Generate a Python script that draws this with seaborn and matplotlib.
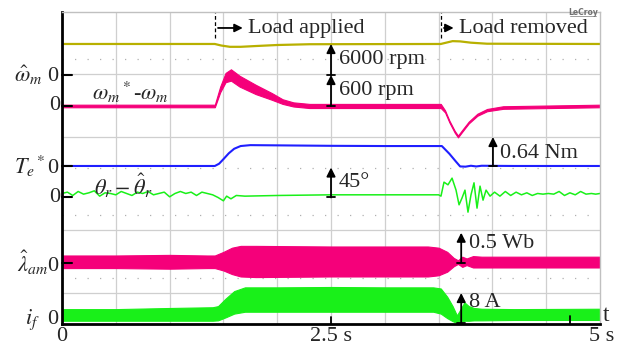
import seaborn as sns
from matplotlib import pyplot as plt

# Scope screen: x in seconds (0..5 s), y in screen units (0..312, 39 units per division).
# Each channel has a zero level on screen and a gain (screen units per physical unit).

# estimated speed (rpm)
speed_t = [0.00, 1.42, 1.48, 1.56, 1.66, 1.80, 2.00, 2.30, 3.52, 3.57, 3.63, 3.70, 3.80, 3.95, 5.00]
speed_rpm = [6000, 6000, 5700, 5450, 5450, 5600, 5800, 5950, 6000, 6250, 6550, 6500, 6250, 6050, 6000]

# speed error (rpm), centre and half width of the noisy band
err_t = [0.00, 1.42, 1.47, 1.52, 1.57, 1.65, 1.80, 1.95, 2.05, 2.15, 2.30, 3.52,
         3.56, 3.60, 3.65, 3.68, 3.72, 3.78, 3.86, 3.95, 4.10, 5.00]
err_rpm = [0, 0, 320, 550, 600, 480, 320, 185, 85, 30, 0, 0,
           -105, -300, -500, -590, -480, -320, -170, -80, -30, 0]
err_half = [25, 25, 55, 90, 110, 105, 90, 65, 45, 40, 40, 40,
            20, 18, 18, 18, 18, 18, 20, 22, 25, 25]

# torque reference (Nm)
te_t = [0.00, 1.42, 1.46, 1.50, 1.55, 1.60, 1.66, 1.75, 2.00, 2.50, 3.00, 3.53,
        3.60, 3.66, 3.70, 3.75, 3.80, 3.85, 3.90, 4.20, 5.00]
te_nm = [0.0, 0.0, 0.05, 0.15, 0.28, 0.38, 0.44, 0.46, 0.455, 0.445, 0.44, 0.44,
         0.27, 0.10, -0.01, -0.015, 0.005, -0.01, 0.005, 0.0, 0.0]

# rotor position error (deg)
theta_t = [0.00, 0.05, 0.10, 0.15, 0.20, 0.25, 0.30, 0.35, 0.40, 0.45, 0.50, 0.55,
           0.60, 0.65, 0.70, 0.75, 0.80, 0.85, 0.90, 0.95, 1.00, 1.05, 1.10, 1.15,
           1.20, 1.25, 1.30, 1.35, 1.40, 1.45, 1.50, 1.53, 1.57, 1.62, 1.70, 2.00,
           2.50, 3.00, 3.50, 3.522, 3.550, 3.587, 3.625, 3.662, 3.690, 3.717, 3.745,
           3.773, 3.801, 3.829, 3.857, 3.885, 3.913, 3.941, 3.978, 4.02, 4.07, 4.12,
           4.17, 4.22, 4.27, 4.32, 4.37, 4.42, 4.47, 4.52, 4.57, 4.62, 4.67, 4.72,
           4.77, 4.82, 4.87, 4.92, 4.96, 5.00]
theta_deg = [6, 8, 3, 9, 5, 7, 10, 2, 7, 6, 4, 9, 6, 3, 8, 6, 9, 4, 6, 8, 1, 6, 9,
             6, 8, 3, 8, 6, 4, 0, -5, 2, -2, 3, 2, 3, 4, 4, 4, 2, 23, 19, 29, 11,
             -11, -1, 11, -22, 4, 22, -16, 17, -4, 11, 2, 8, 2, 9, 3, 8, 4, 7, 3,
             6, 5, 6, 5, 9, 3, 7, 4, 9, 5, 6, 5, 6]

# estimated flux (Wb), envelope of the band
lam_t = [0.00, 0.50, 1.00, 1.35, 1.42, 1.50, 1.58, 1.66, 1.80, 2.50, 3.00, 3.40,
         3.50, 3.58, 3.64, 3.68, 3.72, 3.76, 3.82, 3.90, 5.00]
lam_hi = [0.12, 0.12, 0.13, 0.12, 0.12, 0.18, 0.25, 0.28, 0.28, 0.27, 0.27, 0.27,
          0.25, 0.18, 0.08, 0.04, 0.10, 0.07, 0.11, 0.10, 0.10]
lam_lo = [-0.09, -0.09, -0.10, -0.09, -0.09, -0.13, -0.19, -0.23, -0.24, -0.23, -0.23, -0.23,
          -0.21, -0.15, -0.06, -0.02, -0.07, -0.04, -0.08, -0.08, -0.08]

# field current (A), envelope of the band
if_t = [0.00, 0.50, 1.00, 1.40, 1.45, 1.52, 1.60, 1.70, 2.00, 2.50, 3.00, 3.45,
        3.52, 3.58, 3.63, 3.67, 3.70, 3.74, 3.78, 3.83, 3.90, 4.20, 5.00]
if_hi = [3.7, 3.7, 4.0, 4.2, 4.5, 6.5, 8.5, 9.5, 9.5, 9.6, 9.5, 9.5,
         9.2, 7.0, 4.5, 2.0, 3.5, 5.5, 4.5, 4.0, 3.8, 3.7, 3.8]
if_lo = [0.6, 0.6, 0.6, 0.6, 0.7, 1.5, 2.5, 3.0, 3.0, 3.0, 3.0, 3.0,
         2.5, 1.3, 0.5, 0.0, 0.3, 0.6, 0.6, 0.7, 0.7, 0.8, 0.8]

t_load_on = 1.42
t_load_off = 3.52

# channel zero level on screen and gain
SPEED = (249.0, 31 / 6000)
ERR = (218.0, 31 / 600)
TE = (158.0, 29 / 0.64)
THETA = (126.5, 30 / 45)
LAM = (61.3, 60.0)
IF = (1.0, 30 / 8)

OLIVE = "#b8b000"
PINK = "#f5007a"
BLUE = "#1f1fff"
GREEN = "#19f019"


def scr(channel, values):
    zero, gain = channel
    return [zero + v * gain for v in values]


def scale_arrow(ax, t, channel, value, label, dy=0.0):
    zero, gain = channel
    top = zero + value * gain
    ax.annotate("", xy=(t, top), xytext=(t, zero),
                arrowprops=dict(arrowstyle="-|>", color="black", lw=1.3,
                                mutation_scale=13, shrinkA=0, shrinkB=0))
    ax.plot([t - 0.035, t + 0.035], [zero, zero], color="black", lw=1.3)
    ax.text(t + 0.07, (zero + top) / 2 + dy, label, fontsize=16, va="center", ha="left")


sns.set_theme(style="white")
plt.rcParams["font.family"] = ["Liberation Serif", "DejaVu Serif"]
plt.rcParams["mathtext.fontset"] = "stix"

fig = plt.figure(figsize=(6.29, 3.48), dpi=100)
ax = fig.add_axes([0.0986, 0.069, 0.8553, 0.8966])
ax.set_xlim(0, 5)
ax.set_ylim(0, 312)
ax.set_xticks([])
ax.set_yticks([])

# scope grid
for x in [0.5, 1.0, 1.5, 2.0, 2.5, 3.0, 3.5, 4.0, 4.5]:
    ax.axvline(x, color="#cfcfcf", lw=0.9, zorder=0)
for y in [250, 187, 94, 31]:
    ax.axhline(y, color="#cfcfcf", lw=0.9, zorder=0)
for y in [265, 156, 109, 46]:
    ax.axhline(y, color="#b0b0b0", lw=0.9, ls=(0, (1, 9)), zorder=0)

for side in ["top", "right"]:
    ax.spines[side].set_color("#c0c0c0")
    ax.spines[side].set_linewidth(1.0)
for side in ["left", "bottom"]:
    ax.spines[side].set_color("black")
    ax.spines[side].set_linewidth(2.0)

# traces
sns.lineplot(x=speed_t, y=scr(SPEED, speed_rpm), ax=ax, color=OLIVE, lw=1.6,
             sort=False, estimator=None, legend=False)

err_mid = scr(ERR, err_rpm)
err_up = [m + h * ERR[1] for m, h in zip(err_mid, err_half)]
err_dn = [m - h * ERR[1] for m, h in zip(err_mid, err_half)]
ax.fill_between(err_t, err_dn, err_up, color=PINK, lw=0.8, edgecolor=PINK)

sns.lineplot(x=te_t, y=scr(TE, te_nm), ax=ax, color=BLUE, lw=1.5,
             sort=False, estimator=None, legend=False)
sns.lineplot(x=theta_t, y=scr(THETA, theta_deg), ax=ax, color=GREEN, lw=1.1,
             sort=False, estimator=None, legend=False)

ax.fill_between(lam_t, scr(LAM, lam_lo), scr(LAM, lam_hi), color=PINK, lw=0.8, edgecolor=PINK)
ax.fill_between(if_t, scr(IF, if_lo), scr(IF, if_hi), color=GREEN, lw=0.8, edgecolor=GREEN)

# zero markers on the left edge
for ch in [SPEED, ERR, TE, THETA, LAM]:
    ax.plot([0, 0.09], [ch[0], ch[0]], color="black", lw=1.5, clip_on=False)
ax.plot([2.5, 2.5], [0, 7], color="black", lw=1.3)
ax.plot([4.72, 4.72], [0, 8], color="black", lw=1.3)

# channel labels
lab = dict(fontsize=16, ha="right", va="center", clip_on=False)
ax.text(-0.02, SPEED[0], r"$\hat{\omega}_m$ 0", **lab)
ax.text(-0.02, ERR[0], "0", **lab)
ax.text(-0.02, TE[0], r"$T_e{}^*$0", **lab)
ax.text(-0.02, THETA[0], "0", **lab)
ax.text(-0.02, LAM[0], r"$\hat{\lambda}_{am}$0", **lab)
ax.text(-0.02, 4, r"$i_f$  0", **lab)

ax.text(0.28, 232, r"$\omega_m{}^*$-$\omega_m$", fontsize=16, va="center")
ax.text(0.30, 138, r"$\theta_r-\hat{\theta}_r$", fontsize=16, va="center")

# scale arrows
scale_arrow(ax, 2.5, SPEED, 6000, "6000 rpm")
scale_arrow(ax, 2.5, ERR, 600, "600 rpm")
scale_arrow(ax, 4.005, TE, 0.64, "0.64 Nm", dy=-2)
scale_arrow(ax, 2.5, THETA, 45, "45°")
scale_arrow(ax, 3.71, LAM, 0.5, "0.5 Wb", dy=4)
scale_arrow(ax, 3.71, IF, 8, "8 A", dy=5)

# load events
for t_ev, t_end, text in [(t_load_on, 1.68, "Load applied"), (t_load_off, 3.64, "Load removed")]:
    ax.plot([t_ev, t_ev], [286, 312], color="black", lw=0.9, ls=(0, (3, 2)))
    ax.annotate("", xy=(t_end, 296), xytext=(t_ev + 0.03, 296),
                arrowprops=dict(arrowstyle="-|>", color="black", lw=1.3,
                                mutation_scale=12, shrinkA=0, shrinkB=0))
    ax.text(t_end + 0.05, 295, text, fontsize=16, va="center", ha="left")

ax.text(4.84, 311, "LeCroy", fontsize=5.5, color="#707070", ha="center", va="center",
        family="DejaVu Sans", fontweight="bold")
ax.plot([4.72, 4.96], [307.5, 307.5], color="#909090", lw=0.6)

# time axis
ax.text(0.0, -13, "0", fontsize=16, ha="center", va="center", clip_on=False)
ax.text(2.5, -13, "2.5 s", fontsize=16, ha="center", va="center", clip_on=False)
ax.text(4.9, -13, "5 s", fontsize=16, ha="left", va="center", clip_on=False)
ax.text(5.03, 8, "t", fontsize=17, ha="left", va="center", clip_on=False)

fig.savefig("out.png", dpi=100)
plt.close(fig)
